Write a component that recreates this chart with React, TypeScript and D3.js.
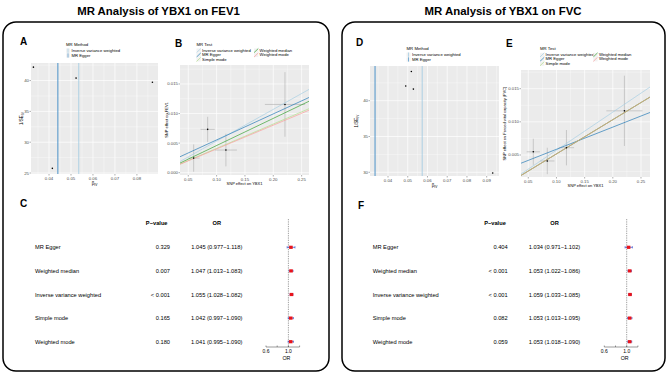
import React, { useEffect, useRef } from 'react';
import * as d3 from 'd3';

// MR estimates, rows in forest-plot order
const methodNames = ["MR Egger", "Weighted median", "Inverse variance weighted", "Simple mode", "Weighted mode"];

const fev1PValues = ["0.329", "0.007", "< 0.001", "0.165", "0.180"];
const fev1Or = [1.045, 1.047, 1.055, 1.042, 1.041];
const fev1OrLow = [0.977, 1.013, 1.028, 0.997, 0.995];
const fev1OrHigh = [1.118, 1.083, 1.082, 1.090, 1.090];
const fev1EggerIntercept = 0.00114;

const fvcPValues = ["0.404", "< 0.001", "< 0.001", "0.082", "0.059"];
const fvcOr = [1.034, 1.053, 1.059, 1.053, 1.053];
const fvcOrLow = [0.971, 1.022, 1.033, 1.013, 1.018];
const fvcOrHigh = [1.102, 1.086, 1.085, 1.095, 1.090];
const fvcEggerIntercept = 0.00252;

// per-SNP effects on YBX1 (exposure) and on the outcome
const fev1BetaExp = [0.0595, 0.0842, 0.1164, 0.2206];
const fev1SeExp = [0.0105, 0.0125, 0.0195, 0.0355];
const fev1BetaOut = [0.00247, 0.00733, 0.00383, 0.01154];
const fev1SeOut = [0.00231, 0.00212, 0.00276, 0.00546];

const fvcBetaExp = [0.0589, 0.0837, 0.1177, 0.2206];
const fvcSeExp = [0.0118, 0.0127, 0.0135, 0.032];
const fvcBetaOut = [0.00548, 0.0041, 0.0061, 0.01166];
const fvcSeOut = [0.00197, 0.00199, 0.00267, 0.0053];

// scatter legend order + palette
const scatterMethods = ["Inverse variance weighted", "MR Egger", "Simple mode", "Weighted median", "Weighted mode"];
const scatterColors = ["#a6cee3", "#1f78b4", "#b2df8a", "#33a02c", "#fb9a99"];
const funnelMethods = ["Inverse variance weighted", "MR Egger"];
const funnelColors = ["#a6cee3", "#5b9bcc"];

const FONT = "'Liberation Sans', Arial, Helvetica, sans-serif";

function minorTicks(major: number[], domain: number[]) {
  const step = major[1] - major[0];
  const out: number[] = [];
  for (let i = -1; i < major.length; i++) {
    const v = (i < 0 ? major[0] - step : major[i]) + step / 2;
    if (v > domain[0] && v < domain[1]) out.push(v);
  }
  return out;
}

function txt(g: any, x: number, y: number, s: string, size: number, opts: any = {}) {
  return g.append('text')
    .attr('x', x).attr('y', y)
    .attr('font-size', size)
    .attr('font-family', FONT)
    .attr('fill', opts.fill || '#000')
    .attr('font-weight', opts.bold ? 'bold' : null)
    .attr('text-anchor', opts.anchor || 'start')
    .text(s);
}

// ggplot-style grey panel with white grid, ticks and tick labels
function drawPanel(g: any, x: any, y: any, xTicks: number[], yTicks: number[], xFmt: any, yFmt: any) {
  const [x0, x1] = x.range();
  const [yb, yt] = y.range();
  g.append('rect').attr('x', x0).attr('y', yt).attr('width', x1 - x0).attr('height', yb - yt).attr('fill', '#ebebeb');
  minorTicks(xTicks, x.domain()).forEach(v => g.append('line').attr('x1', x(v)).attr('x2', x(v)).attr('y1', yt).attr('y2', yb).attr('stroke', '#fff').attr('stroke-width', 0.35));
  minorTicks(yTicks, y.domain()).forEach(v => g.append('line').attr('x1', x0).attr('x2', x1).attr('y1', y(v)).attr('y2', y(v)).attr('stroke', '#fff').attr('stroke-width', 0.35));
  xTicks.forEach(v => {
    g.append('line').attr('x1', x(v)).attr('x2', x(v)).attr('y1', yt).attr('y2', yb).attr('stroke', '#fff').attr('stroke-width', 0.7);
    g.append('line').attr('x1', x(v)).attr('x2', x(v)).attr('y1', yb).attr('y2', yb + 1.5).attr('stroke', '#333').attr('stroke-width', 0.4);
    txt(g, x(v), yb + 5.6, xFmt(v), 4.3, { fill: '#4d4d4d', anchor: 'middle' });
  });
  yTicks.forEach(v => {
    g.append('line').attr('x1', x0).attr('x2', x1).attr('y1', y(v)).attr('y2', y(v)).attr('stroke', '#fff').attr('stroke-width', 0.7);
    g.append('line').attr('x1', x0 - 1.5).attr('x2', x0).attr('y1', y(v)).attr('y2', y(v)).attr('stroke', '#333').attr('stroke-width', 0.4);
    txt(g, x0 - 2, y(v) + 1.5, yFmt(v), 4.3, { fill: '#4d4d4d', anchor: 'end' });
  });
}

function drawFunnel(svg: any, c: any) {
  const g = svg.append('g');
  const x = d3.scaleLinear().domain(c.xDomain).range([c.rect[0], c.rect[1]]);
  const y = d3.scaleLinear().domain(c.yDomain).range([c.rect[3], c.rect[2]]);
  drawPanel(g, x, y, c.xTicks, c.yTicks, d3.format('.2f'), d3.format('d'));

  // vertical lines at the IVW and Egger log-OR
  const est = [Math.log(c.ivwOr), Math.log(c.eggerOr)];
  est.forEach((v, i) => {
    g.append('line').attr('x1', x(v)).attr('x2', x(v)).attr('y1', c.rect[2]).attr('y2', c.rect[3])
      .attr('stroke', funnelColors[i]).attr('stroke-width', i === 1 ? 1.1 : 0.9);
  });

  const pts = c.bx.map((b: number, i: number) => ({ b: c.by[i] / b, w: b / c.seOut[i] }));
  g.selectAll('circle.pt').data(pts).enter().append('circle')
    .attr('cx', (d: any) => x(d.b)).attr('cy', (d: any) => y(d.w)).attr('r', 0.8).attr('fill', '#000');

  // axis titles
  const yl = g.append('text').attr('transform', `translate(${c.yLabelX},${(c.rect[2] + c.rect[3]) / 2}) rotate(-90)`)
    .attr('font-size', 4.5).attr('font-family', FONT).attr('text-anchor', 'middle');
  yl.append('tspan').text('1/SE');
  yl.append('tspan').attr('font-size', 3.2).attr('dy', 1.2).text('IV');
  const xl = g.append('text').attr('x', (c.rect[0] + c.rect[1]) / 2).attr('y', c.rect[3] + 11)
    .attr('font-size', 4.5).attr('font-family', FONT).attr('text-anchor', 'middle');
  xl.append('tspan').text('β');
  xl.append('tspan').attr('font-size', 3.2).attr('dy', 1.2).text('IV');

  // legend
  txt(g, c.legend[0], c.legend[1], 'MR Method', 4.3);
  funnelMethods.forEach((m, i) => {
    const ly = c.legend[1] + 3 + i * 4.8;
    g.append('rect').attr('x', c.legend[0]).attr('y', ly).attr('width', 4).attr('height', 4.3).attr('fill', '#f2f2f2');
    g.append('line').attr('x1', c.legend[0] + 2).attr('x2', c.legend[0] + 2).attr('y1', ly).attr('y2', ly + 4.3)
      .attr('stroke', funnelColors[i]).attr('stroke-width', 0.8);
    txt(g, c.legend[0] + 5.5, ly + 3.2, m, 4.2);
  });
  txt(g, c.letter[0], c.letter[1], c.letterText, 10, { bold: true });
}

function drawScatter(svg: any, c: any) {
  const g = svg.append('g');
  const x = d3.scaleLinear().domain(c.xDomain).range([c.rect[0], c.rect[1]]);
  const y = d3.scaleLinear().domain(c.yDomain).range([c.rect[3], c.rect[2]]);
  drawPanel(g, x, y, c.xTicks, c.yTicks, d3.format('.2f'), d3.format('.3f'));

  const clipId = 'clip-' + c.letterText;
  svg.append('clipPath').attr('id', clipId).append('rect')
    .attr('x', c.rect[0]).attr('y', c.rect[2]).attr('width', c.rect[1] - c.rect[0]).attr('height', c.rect[3] - c.rect[2]);
  const inner = g.append('g').attr('clip-path', `url(#${clipId})`);

  // error bars
  c.bx.forEach((b: number, i: number) => {
    inner.append('line').attr('x1', x(b)).attr('x2', x(b)).attr('y1', y(c.by[i] - c.seOut[i])).attr('y2', y(c.by[i] + c.seOut[i]))
      .attr('stroke', '#9a9a9a').attr('stroke-width', 0.45);
    inner.append('line').attr('x1', x(b - c.seExp[i])).attr('x2', x(b + c.seExp[i])).attr('y1', y(c.by[i])).attr('y2', y(c.by[i]))
      .attr('stroke', '#9a9a9a').attr('stroke-width', 0.45);
  });

  // regression lines, slopes are the log OR of each method
  const slopeIdx: any = { "Inverse variance weighted": 2, "MR Egger": 0, "Simple mode": 3, "Weighted median": 1, "Weighted mode": 4 };
  const [dx0, dx1] = x.domain();
  scatterMethods.forEach((m, i) => {
    const slope = Math.log(c.or[slopeIdx[m]]);
    const icpt = m === 'MR Egger' ? c.eggerIntercept : 0;
    inner.append('line').attr('x1', x(dx0)).attr('x2', x(dx1))
      .attr('y1', y(icpt + slope * dx0)).attr('y2', y(icpt + slope * dx1))
      .attr('stroke', scatterColors[i]).attr('stroke-width', 0.9).attr('stroke-opacity', 0.75);
  });

  inner.selectAll('circle.pt').data(c.bx).enter().append('circle')
    .attr('cx', (d: number) => x(d)).attr('cy', (_: number, i: number) => y(c.by[i])).attr('r', 0.8).attr('fill', '#000');

  g.append('text').attr('transform', `translate(${c.yLabelX},${(c.rect[2] + c.rect[3]) / 2}) rotate(-90)`)
    .attr('font-size', 4).attr('font-family', FONT).attr('text-anchor', 'middle').text(c.yLabel);
  txt(g, (c.rect[0] + c.rect[1]) / 2, c.rect[3] + 10, 'SNP effect on YBX1', 4, { anchor: 'middle' });

  // legend, 3 rows column-major
  txt(g, c.legend[0], c.legend[1], 'MR Test', 4.3);
  scatterMethods.forEach((m, i) => {
    const col = Math.floor(i / 3), row = i % 3;
    const lx = c.legend[0] + col * c.legendColW;
    const ly = c.legend[1] + 3 + row * 4.4;
    g.append('rect').attr('x', lx).attr('y', ly).attr('width', 4.3).attr('height', 4.2).attr('fill', '#f2f2f2');
    g.append('line').attr('x1', lx).attr('x2', lx + 4.3).attr('y1', ly + 4.2).attr('y2', ly)
      .attr('stroke', scatterColors[i]).attr('stroke-width', 0.7);
    txt(g, lx + 5.6, ly + 3.2, m, 4.2);
  });
  txt(g, c.letter[0], c.letter[1], c.letterText, 10, { bold: true });
}

function drawForest(svg: any, c: any) {
  const g = svg.append('g');
  const rowY = d3.scalePoint().domain(methodNames).range([247.3, 341.7]);
  const x = d3.scaleLinear().domain([0.6, 1.2]).range(c.axisRange);
  const fs = 5.7;
  txt(g, c.letter[0], c.letter[1], c.letterText, 10, { bold: true });
  txt(g, c.pHeaderX, 225.3, 'P\u2212value', fs, { bold: true, anchor: 'middle' });
  txt(g, c.orX, 225.3, 'OR', fs, { bold: true, anchor: 'middle' });
  const axisY = 347;

  g.append('line').attr('x1', x(1)).attr('x2', x(1)).attr('y1', 219).attr('y2', axisY)
    .attr('stroke', '#444').attr('stroke-width', 0.5).attr('stroke-dasharray', '1.3,1');

  methodNames.forEach((m, i) => {
    const cy = rowY(m) as number;
    txt(g, c.nameX, cy + 2, m, fs);
    txt(g, c.pRight, cy + 2, c.p[i], fs, { anchor: 'end' });
    const f = d3.format('.3f');
    txt(g, c.orX, cy + 2, `${f(c.or[i])} (${f(c.low[i])}\u2212${f(c.high[i])})`, fs, { anchor: 'middle' });
    g.append('line').attr('x1', x(c.low[i])).attr('x2', x(c.high[i])).attr('y1', cy).attr('y2', cy)
      .attr('stroke', '#3048c8').attr('stroke-width', 0.7);
    [c.low[i], c.high[i]].forEach(v => g.append('line').attr('x1', x(v)).attr('x2', x(v)).attr('y1', cy - 1.1).attr('y2', cy + 1.1)
      .attr('stroke', '#3048c8').attr('stroke-width', 0.6));
    g.append('rect').attr('x', x(c.or[i]) - 1.8).attr('y', cy - 1.6).attr('width', 3.6).attr('height', 3.2).attr('fill', '#e8141c');
  });

  g.append('line').attr('x1', x(0.6)).attr('x2', x(1.2)).attr('y1', axisY).attr('y2', axisY).attr('stroke', '#222').attr('stroke-width', 0.45);
  [0.6, 0.8, 1.0, 1.2].forEach(v => g.append('line').attr('x1', x(v)).attr('x2', x(v)).attr('y1', axisY - 1.5).attr('y2', axisY)
    .attr('stroke', '#222').attr('stroke-width', 0.45));
  [0.6, 1.0].forEach(v => txt(g, x(v), axisY + 6, d3.format('.1f')(v), 5, { anchor: 'middle' }));
  txt(g, x(1) - 2, axisY + 13, 'OR', 5.3, { anchor: 'middle' });
}

function drawFigure(svg: any) {
  // outer rounded boxes and titles
  svg.append('rect').attr('x', 3).attr('y', 22).attr('width', 326).attr('height', 349).attr('rx', 13)
    .attr('fill', 'none').attr('stroke', '#000').attr('stroke-width', 1.5);
  svg.append('rect').attr('x', 342).attr('y', 22).attr('width', 323).attr('height', 349).attr('rx', 13)
    .attr('fill', 'none').attr('stroke', '#000').attr('stroke-width', 1.5);
  txt(svg, 158.5, 15, 'MR Analysis of YBX1 on FEV1', 11.4, { bold: true, anchor: 'middle' });
  txt(svg, 503, 15, 'MR Analysis of YBX1 on FVC', 11.4, { bold: true, anchor: 'middle' });

  drawFunnel(svg, {
    rect: [31, 158, 63, 174], xDomain: [0.0318, 0.0896], yDomain: [24.84, 42.85],
    xTicks: [0.04, 0.05, 0.06, 0.07, 0.08], yTicks: [25, 30, 35, 40],
    bx: fev1BetaExp, by: fev1BetaOut, seOut: fev1SeOut,
    ivwOr: fev1Or[2], eggerOr: fev1Or[0],
    yLabelX: 22.5, legend: [66, 45.5], letter: [20, 45], letterText: 'A',
  });
  drawFunnel(svg, {
    rect: [370, 499, 66, 176], xDomain: [0.03088, 0.09623], yDomain: [29.48, 44.85],
    xTicks: [0.04, 0.05, 0.06, 0.07, 0.08, 0.09], yTicks: [30, 35, 40],
    bx: fvcBetaExp, by: fvcBetaOut, seOut: fvcSeOut,
    ivwOr: fvcOr[2], eggerOr: fvcOr[0],
    yLabelX: 357.5, legend: [406.5, 49.5], letter: [356, 46], letterText: 'D',
  });
  drawScatter(svg, {
    rect: [180, 309, 65, 175], xDomain: [0.0354, 0.263], yDomain: [-0.00039, 0.01821],
    xTicks: [0.05, 0.10, 0.15, 0.20, 0.25], yTicks: [0, 0.005, 0.010, 0.015],
    bx: fev1BetaExp, seExp: fev1SeExp, by: fev1BetaOut, seOut: fev1SeOut,
    or: fev1Or, eggerIntercept: fev1EggerIntercept,
    yLabel: 'SNP effect on FEV1', yLabelX: 167.5,
    legend: [196.5, 45.5], legendColW: 57.5, letter: [175, 46.7], letterText: 'B',
  });
  drawScatter(svg, {
    rect: [521, 650, 70, 177], xDomain: [0.03705, 0.266], yDomain: [0.00168, 0.01782],
    xTicks: [0.05, 0.10, 0.15, 0.20, 0.25], yTicks: [0.005, 0.010, 0.015],
    bx: fvcBetaExp, seExp: fvcSeExp, by: fvcBetaOut, seOut: fvcSeOut,
    or: fvcOr, eggerIntercept: fvcEggerIntercept,
    yLabel: 'SNP effect on Forced vital capacity (FVC)', yLabelX: 506,
    legend: [540, 49.8], legendColW: 53.3, letter: [506, 46.7], letterText: 'E',
  });
  drawForest(svg, {
    letter: [20, 207.3], letterText: 'C', nameX: 35, pRight: 170, pHeaderX: 156.7, orX: 216.8,
    axisRange: [266, 299.6], p: fev1PValues, or: fev1Or, low: fev1OrLow, high: fev1OrHigh,
  });
  drawForest(svg, {
    letter: [358, 209.3], letterText: 'F', nameX: 372.7, pRight: 507.7, pHeaderX: 495, orX: 554.5,
    axisRange: [604.3, 637.9], p: fvcPValues, or: fvcOr, low: fvcOrLow, high: fvcOrHigh,
  });
}

export default function App() {
  const ref = useRef<SVGSVGElement>(null);

  useEffect(() => {
    const svg = d3.select(ref.current);
    svg.selectAll('*').remove();
    drawFigure(svg);
  }, []);

  return (
    <svg ref={ref} width={669} height={376}
      style={{ position: 'absolute', left: 0, top: 0, background: '#fff' }} />
  );
}
